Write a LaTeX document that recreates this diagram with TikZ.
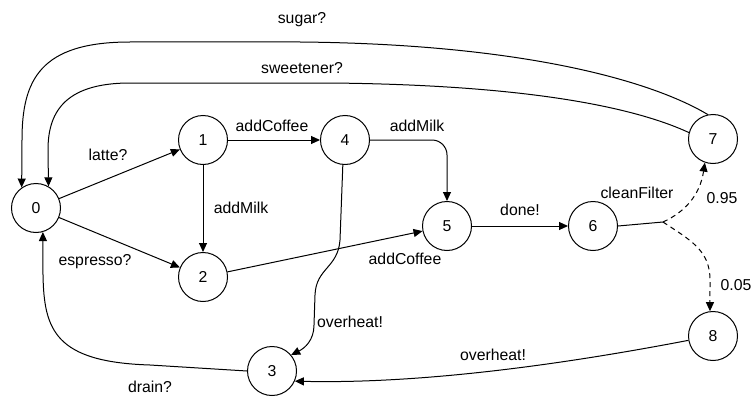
\documentclass[tikz,border=0pt]{standalone}
\usepackage{fontspec}
\setmainfont{Liberation Sans}
\usetikzlibrary{arrows.meta}
\begin{document}
\begin{tikzpicture}[x=1pt,y=-1pt,
  every node/.style={font=\fontsize{15.8}{18}\selectfont},
  state/.style={draw,circle,minimum size=49pt,inner sep=0pt,line width=1pt},
  edge/.style={line width=1pt,-{Triangle[length=9pt,width=8pt]}},
  plain/.style={line width=1pt},
  prob/.style={edge,dashed,dash pattern=on 5pt off 4pt},
  lbl/.style={inner sep=0pt}]
\useasboundingbox (0,0) rectangle (751,396);

% states
\node[state] (n0) at (36,208) {0};
\node[state] (n1) at (203,140) {1};
\node[state] (n4) at (345,140) {4};
\node[state] (n2) at (203,277) {2};
\node[state] (n5) at (447,226) {5};
\node[state] (n6) at (593,226) {6};
\node[state] (n7) at (713,139) {7};
\node[state] (n8) at (713,336) {8};
\node[state] (n3) at (272,371) {3};

% straight transitions
\draw[edge] (n0) -- (n1);
\draw[edge] (n0) -- (n2);
\draw[edge] (n1) -- (n4);
\draw[edge] (n1) -- (n2);
\draw[edge] (n2) -- (n5);
\draw[edge] (n5) -- (n6);
\draw[edge,rounded corners=15pt] (n4.east) -| (n5.north);

% overheat from 4 down to 3
\draw[edge] (n4.265) -- (340,240) .. controls (338,268) and (316,268) .. (315,295)
  -- (314,325) .. controls (314,340) and (305,348) .. (n3.40);

% drain back to 0
\draw[edge] (n3.west) -- (150,365) .. controls (55,362) and (44,330) .. (43,275) -- (n0.-74);

% overheat from 8 to 3
\draw[edge] (n8.190) .. controls (560,365) and (420,384) .. (n3.-24);

% sugar / sweetener loops back to 0
\draw[edge] (n7.102) .. controls (650,80) and (520,44) .. (300,42) -- (130,42)
  .. controls (40,42) and (22,80) .. (22,140) -- (n0.125);
\draw[edge] (n7.165) .. controls (640,110) and (540,85) .. (330,83) -- (130,83)
  .. controls (62,83) and (48,115) .. (48,150) -- (n0.60);

% probabilistic cleanFilter branch
\coordinate (split) at (663,222);
\draw[plain] (n6.east) -- (split);
\draw[prob] (split) .. controls (685,212) and (700,195) .. (n7.-109);
\draw[prob] (split) .. controls (690,240) and (710,250) .. (710,280) -- (n8.97);

% labels
\node[lbl] (lsugar) at (302,20) {sugar?};
\node[lbl] (lsweet) at (302,68) {sweetener?};
\node[lbl] (llatte) at (108,155) {latte?};
\node[lbl] (lac1) at (272,126) {addCoffee};
\node[lbl] (lam1) at (241,208) {addMilk};
\node[lbl] (lesp) at (95,262) {espresso?};
\node[lbl] (lam2) at (417,126) {addMilk};
\node[lbl] (lac2) at (405,259) {addCoffee};
\node[lbl] (loh1) at (350,322) {overheat!};
\node[lbl] (ldone) at (520,210) {done!};
\node[lbl] (lclean) at (637,193) {cleanFilter};
\node[lbl] (lp1) at (722,198) {0.95};
\node[lbl] (lp2) at (736,285) {0.05};
\node[lbl] (loh2) at (493,355) {overheat!};
\node[lbl] (ldrain) at (150,387) {drain?};
\end{tikzpicture}
\end{document}
